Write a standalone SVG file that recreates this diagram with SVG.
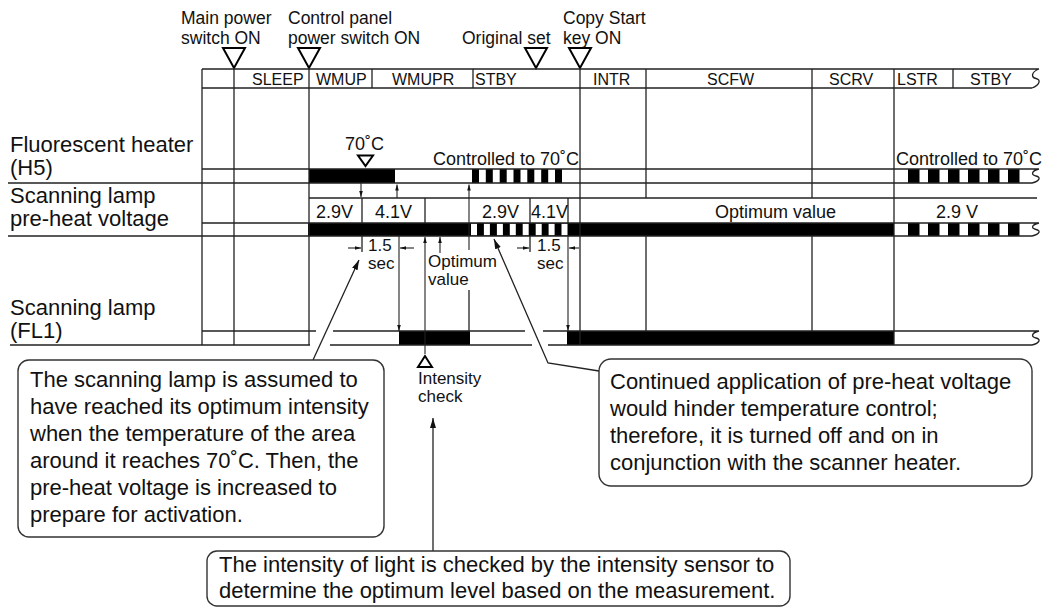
<svg xmlns="http://www.w3.org/2000/svg" width="1042" height="610" viewBox="0 0 1042 610">
<style>
text{font-family:"Liberation Sans",Arial,Helvetica,sans-serif;fill:#111}
.t17{font-size:17.5px}
.hd{font-size:16px}
.lb{font-size:22px}
.s18{font-size:18px}
.s17{font-size:17px}
.ln{stroke:#222;stroke-width:1.3;fill:none}
.bar{fill:#000}
.wh{fill:#fff}
.box{fill:#fff;stroke:#333;stroke-width:1.4}
.tri{fill:#fff;stroke:#000;stroke-width:2}
.ar{stroke:#222;stroke-width:1.1;fill:none;marker-end:url(#ah)}
.ld{stroke:#222;stroke-width:1.3;fill:none;marker-end:url(#ahL)}
</style>
<defs>
<marker id="ah" viewBox="0 0 10 6" refX="10" refY="3" markerUnits="userSpaceOnUse" markerWidth="6" markerHeight="3.6" orient="auto"><path d="M0,0 L10,3 L0,6 z" fill="#111"/></marker>
<marker id="ahL" viewBox="0 0 10 6" refX="10" refY="3" markerUnits="userSpaceOnUse" markerWidth="10" markerHeight="6" orient="auto"><path d="M0,0 L10,3 L0,6 z" fill="#111"/></marker>
</defs>
<rect width="1042" height="610" fill="#fff"/>

<g id="events">
<text class="t17" x="181" y="24">Main power</text><text class="t17" x="181" y="44">switch ON</text>
<text class="t17" x="288" y="24">Control panel</text><text class="t17" x="288" y="44">power switch ON</text>
<text class="t17" x="462" y="44">Original set</text>
<text class="t17" x="563" y="24">Copy Start</text><text class="t17" x="563" y="44">key ON</text>
<polygon class="tri" points="223,48 245,48 234,68"/>
<polygon class="tri" points="298,48 320,48 309,68"/>
<polygon class="tri" points="525,48 547,48 536,68"/>
<polygon class="tri" points="569,48 591,48 580,68"/>
</g>

<g id="row-labels">
<text class="lb" x="10" y="152">Fluorescent heater</text>
<text class="lb" x="10" y="175">(H5)</text>
<text class="lb" x="10" y="203">Scanning lamp</text>
<text class="lb" x="10" y="226">pre-heat voltage</text>
<text class="lb" x="10" y="315">Scanning lamp</text>
<text class="lb" x="10" y="338">(FL1)</text>
</g>

<g id="bars">
<rect class="bar" x="309" y="169" width="86" height="14"/>
<rect class="bar" x="472" y="169" width="7" height="14"/>
<rect class="bar" x="485.8" y="169" width="7" height="14"/>
<rect class="bar" x="499.7" y="169" width="7" height="14"/>
<rect class="bar" x="513.5" y="169" width="7" height="14"/>
<rect class="bar" x="527.3" y="169" width="7" height="14"/>
<rect class="bar" x="541.2" y="169" width="7" height="14"/>
<rect class="bar" x="555" y="169" width="7" height="14"/>
<rect class="bar" x="908" y="169" width="11.5" height="14"/>
<rect class="bar" x="928" y="169" width="11.5" height="14"/>
<rect class="bar" x="948" y="169" width="11.5" height="14"/>
<rect class="bar" x="968" y="169" width="11.5" height="14"/>
<rect class="bar" x="988" y="169" width="11.5" height="14"/>
<rect class="bar" x="1008" y="169" width="11.5" height="14"/>

<rect class="bar" x="308" y="223" width="586" height="13"/>
<rect class="wh" x="471" y="223.6" width="6" height="11.8"/>
<rect class="wh" x="483.9" y="223.6" width="6" height="11.8"/>
<rect class="wh" x="496.9" y="223.6" width="6" height="11.8"/>
<rect class="wh" x="509.8" y="223.6" width="6" height="11.8"/>
<rect class="wh" x="522.7" y="223.6" width="6" height="11.8"/>
<rect class="wh" x="535.7" y="223.6" width="6" height="11.8"/>
<rect class="wh" x="548.6" y="223.6" width="6" height="11.8"/>
<rect class="wh" x="561.5" y="223.6" width="6" height="11.8"/>
<rect class="bar" x="908" y="223" width="11.5" height="13"/>
<rect class="bar" x="928" y="223" width="11.5" height="13"/>
<rect class="bar" x="948" y="223" width="11.5" height="13"/>
<rect class="bar" x="968" y="223" width="11.5" height="13"/>
<rect class="bar" x="988" y="223" width="11.5" height="13"/>
<rect class="bar" x="1008" y="223" width="11.5" height="13"/>

<rect class="bar" x="399" y="331" width="71" height="14"/>
<rect class="bar" x="567" y="331" width="327" height="14"/>
</g>

<g id="grid" class="ln">
<path d="M202,69H1039M202,88H1032M1039,69C1031,72 1031,77.5 1036,78.5C1041,79.5 1040,85 1032,88"/>
<path d="M202,169H1039M8,183H1032M1039,169C1031,171 1031,175 1036,176C1041,177 1040,181 1032,183"/>
<path d="M309,198H1037"/>
<path d="M202,223H1039M8,236H1032M1039,223C1031,225 1031,228.5 1036,229.5C1041,230.5 1040,234 1032,236"/>
<path d="M202,331H316M333,331H525M543,331H1039M10,345H310M330,345H532M548,345H1032M1039,331C1031,333 1031,337 1036,338C1041,339 1040,343 1032,345"/>
<path d="M202,69V345M234,69V345M309,69V345M580,69V345M894,69V345"/>
<path d="M372,69V88M473,69V88M953,69V88"/>
<path d="M646,69V198M646,236V331M812,69V198M812,236V331"/>
<path d="M362,198V223M362,236V252M425,198V223M530,198V223M530,236V252M568,198V223"/>
</g>

<g id="timing-labels">
<text class="hd" x="252" y="85">SLEEP</text>
<text class="hd" x="316" y="85">WMUP</text>
<text class="hd" x="392" y="85">WMUPR</text>
<text class="hd" x="475" y="85">STBY</text>
<text class="hd" x="593" y="85">INTR</text>
<text class="hd" x="707" y="85">SCFW</text>
<text class="hd" x="829" y="85">SCRV</text>
<text class="hd" x="897" y="85">LSTR</text>
<text class="hd" x="970" y="85">STBY</text>

<text class="s18" x="345" y="150">70˚C</text>
<polygon class="tri" points="358,155.5 373,155.5 365.5,166"/>
<text class="s18" x="433" y="165">Controlled to 70˚C</text>
<text class="s18" x="896" y="165">Controlled to 70˚C</text>

<text class="s18" x="316" y="218">2.9V</text>
<text class="s18" x="375" y="218">4.1V</text>
<text class="s18" x="482" y="218">2.9V</text>
<text class="s18" x="531" y="218">4.1V</text>
<text class="s18" x="715" y="218">Optimum value</text>
<text class="s18" x="936" y="218">2.9 V</text>

<text class="s17" x="368" y="251">1.5</text>
<text class="s17" x="368" y="268.5">sec</text>
<text class="s17" x="428" y="267">Optimum</text>
<text class="s17" x="428" y="284.5">value</text>
<text class="s17" x="537" y="251">1.5</text>
<text class="s17" x="537" y="268.5">sec</text>

<polygon class="tri" points="425,356 418,367 432,367"/>
<text class="s17" x="418" y="384">Intensity</text>
<text class="s17" x="418" y="401.5">check</text>
</g>

<g id="connectors">
<path class="ar" d="M361,183V197"/>
<path class="ar" d="M397,198V184.5"/>
<path class="ar" d="M469,250V184.5"/>
<path class="ln" d="M469,290V331"/>
<path class="ar" d="M348,248H361"/>
<path class="ar" d="M414,248H400"/>
<path class="ar" d="M399,236V331"/>
<path class="ar" d="M425,354V237"/>
<path class="ar" d="M440,253V237"/>
<path class="ar" d="M517,248H529"/>
<path class="ar" d="M579,248H569"/>
<path class="ar" d="M568,236V331"/>
<path class="ld" d="M313,360L359,260"/>
<path class="ld" d="M599,371L548,363L494,239"/>
<path class="ld" d="M433,551V418"/>
</g>

<g id="callout-1">
<rect class="box" x="18" y="360" width="366" height="177" rx="11"/>
<text class="lb" x="30" y="387">The scanning lamp is assumed to</text>
<text class="lb" x="30" y="414">have reached its optimum intensity</text>
<text class="lb" x="30" y="441">when the temperature of the area</text>
<text class="lb" x="30" y="468">around it reaches 70˚C. Then, the</text>
<text class="lb" x="30" y="495">pre-heat voltage is increased to</text>
<text class="lb" x="30" y="522">prepare for activation.</text>
</g>

<g id="callout-2">
<rect class="box" x="599" y="359" width="433" height="127" rx="12"/>
<text class="lb" x="610" y="389">Continued application of pre-heat voltage</text>
<text class="lb" x="610" y="416">would hinder temperature control;</text>
<text class="lb" x="610" y="443">therefore, it is turned off and on in</text>
<text class="lb" x="610" y="470">conjunction with the scanner heater.</text>
</g>

<g id="callout-3">
<rect class="box" x="207" y="551" width="583" height="55" rx="10"/>
<text class="lb" x="219" y="572">The intensity of light is checked by the intensity sensor to</text>
<text class="lb" x="219" y="598">determine the optimum level based on the measurement.</text>
</g>
</svg>
